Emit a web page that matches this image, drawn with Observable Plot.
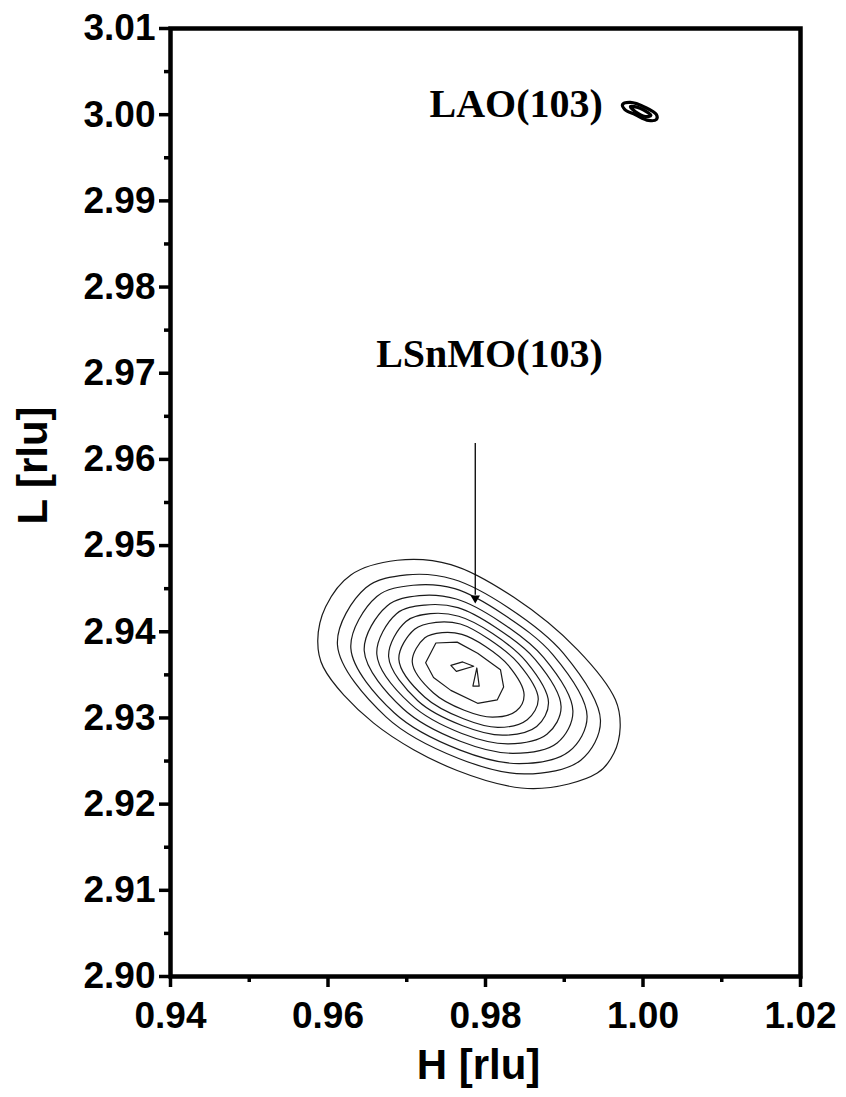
<!DOCTYPE html>
<html>
<head>
<meta charset="utf-8">
<script src="https://cdn.jsdelivr.net/npm/d3@7"></script>
<script src="https://cdn.jsdelivr.net/npm/@observablehq/plot@0.6"></script>
<style>
  html, body { margin: 0; padding: 0; background: #fff; }
  #chart svg { display: block; }
</style>
</head>
<body>
<div id="chart"></div>
<script>
// ---- axis ticks ----
const xTicks = [0.94, 0.96, 0.98, 1.00, 1.02];
const xMinor = [0.95, 0.97, 0.99, 1.01];
const yTicks = [2.90, 2.91, 2.92, 2.93, 2.94, 2.95, 2.96, 2.97, 2.98, 2.99, 3.00, 3.01];
const yMinor = [2.905, 2.915, 2.925, 2.935, 2.945, 2.955, 2.965, 2.975, 2.985, 2.995, 3.005];

// ---- LSnMO(103) contour rings, [H, L] (outer -> inner) ----
const ring1 = [[0.9587,2.9390],[0.9597,2.9429],[0.9629,2.9466],[0.9688,2.9483],[0.9756,2.9478],[0.9836,2.9440],[0.9917,2.9379],[0.9965,2.9321],[0.9971,2.9289],[0.9963,2.9259],[0.9942,2.9236],[0.9861,2.9218],[0.9764,2.9239],[0.9658,2.9294],[0.9594,2.9359]];
const ring2 = [[0.9612,2.9385],[0.9648,2.9451],[0.9700,2.9466],[0.9759,2.9461],[0.9829,2.9428],[0.9899,2.9375],[0.9946,2.9297],[0.9921,2.9251],[0.9850,2.9235],[0.9766,2.9253],[0.9674,2.9301]];
const ring3 = [[0.9629,2.9381],[0.9662,2.9441],[0.9708,2.9454],[0.9761,2.9450],[0.9823,2.9420],[0.9886,2.9373],[0.9929,2.9302],[0.9906,2.9261],[0.9843,2.9247],[0.9767,2.9263],[0.9684,2.9306]];
const ring4 = [[0.9646,2.9378],[0.9675,2.9430],[0.9716,2.9442],[0.9763,2.9438],[0.9818,2.9412],[0.9874,2.9370],[0.9911,2.9308],[0.9891,2.9271],[0.9835,2.9259],[0.9768,2.9273],[0.9695,2.9311]];
const ring5 = [[0.9662,2.9374],[0.9687,2.9421],[0.9723,2.9431],[0.9765,2.9428],[0.9813,2.9405],[0.9863,2.9368],[0.9896,2.9313],[0.9878,2.9281],[0.9829,2.9270],[0.9770,2.9282],[0.9705,2.9316]];
const ring6 = [[0.9677,2.9371],[0.9699,2.9412],[0.9730,2.9421],[0.9766,2.9418],[0.9809,2.9398],[0.9852,2.9365],[0.9880,2.9318],[0.9865,2.9290],[0.9822,2.9280],[0.9771,2.9291],[0.9714,2.9320]];
const ring7 = [[0.9690,2.9368],[0.9710,2.9403],[0.9737,2.9411],[0.9768,2.9409],[0.9805,2.9391],[0.9842,2.9363],[0.9867,2.9322],[0.9853,2.9298],[0.9816,2.9289],[0.9772,2.9299],[0.9723,2.9324]];
const ring8 = [[0.9707,2.9365],[0.9723,2.9393],[0.9745,2.9399],[0.9770,2.9397],[0.9800,2.9383],[0.9829,2.9361],[0.9849,2.9327],[0.9839,2.9308],[0.9809,2.9301],[0.9773,2.9309],[0.9734,2.9329]];
const ring9 = [[0.9724,2.9364],[0.9737,2.9387],[0.9764,2.9388],[0.9790,2.9375],[0.9819,2.9356],[0.9823,2.9336],[0.9815,2.9321],[0.9790,2.9317],[0.9756,2.9332],[0.9734,2.9347]];
const peakA = [[0.9756,2.9361],[0.9771,2.9365],[0.9785,2.9360],[0.9763,2.9354]];
const peakB = [[0.9789,2.9358],[0.9792,2.9337],[0.9784,2.9337]];

// ---- LAO(103) substrate peak contours ----
const laoOuter = [[0.9974,3.00118],[0.9984,3.00142],[1.0003,3.00084],[1.0017,3.00002],[1.0017,2.99944],[1.0007,2.99933],[0.9990,3.00002],[0.9977,3.00060]];
const laoInner = [[0.9984,3.00095],[0.9997,3.00072],[1.0010,2.99991],[1.0003,2.99979],[0.9990,3.00037]];

// ---- annotations ----
const labelText = ["LAO(103)", "LSnMO(103)"];
const labelH = [0.9949, 0.9949];
const labelL = [3.0012, 2.9722];
const arrowH = 0.9787;
const arrowTop = 2.9619;
const arrowTip = 2.9433;

const smoothRings = [ring1, ring2, ring3, ring4, ring5, ring6, ring7, ring8];
const polyRings = [ring9, peakA, peakB];
const laoRings = [laoOuter, laoInner];

const toRows = rings => rings.flatMap((r, i) => r.map(([h, l]) => ({ring: i, h, l})));
const labels = labelText.map((t, i) => ({t, h: labelH[i], l: labelL[i]}));

const chart = Plot.plot({
  width: 846,
  height: 1097,
  marginLeft: 170,
  marginRight: 46,
  marginTop: 28,
  marginBottom: 121,
  x: {domain: [0.94, 1.02]},
  y: {domain: [2.90, 3.01]},
  style: {fontFamily: "'Liberation Sans', Arial, sans-serif", background: "white", color: "black"},
  marks: [
    Plot.axisX(xTicks, {anchor: "bottom", tickSize: 11, tickPadding: 14, strokeWidth: 3.5, fontSize: 37, fontWeight: "bold", tickFormat: d3.format(".2f"), label: null}),
    Plot.axisX(xMinor, {anchor: "bottom", tickSize: 6, strokeWidth: 3.5, text: null, label: null}),
    Plot.axisY(yTicks, {anchor: "left", tickSize: 11, tickPadding: 4, strokeWidth: 3.5, fontSize: 37, fontWeight: "bold", tickFormat: d3.format(".2f"), label: null}),
    Plot.axisY(yMinor, {anchor: "left", tickSize: 6, strokeWidth: 3.5, text: null, label: null}),
    Plot.frame({stroke: "black", strokeWidth: 4.5}),
    Plot.line(toRows(smoothRings), {x: "h", y: "l", z: "ring", curve: "catmull-rom-closed", stroke: "#1a1a1a", strokeWidth: 1.2}),
    Plot.line(toRows(polyRings), {x: "h", y: "l", z: "ring", curve: "linear-closed", stroke: "#1a1a1a", strokeWidth: 1.2}),
    Plot.line(toRows(laoRings), {x: "h", y: "l", z: "ring", curve: "catmull-rom-closed", stroke: "black", strokeWidth: 3.2}),
    Plot.link([0], {x1: () => arrowH, x2: () => arrowH, y1: () => arrowTop, y2: () => arrowTip + 0.0010, stroke: "black", strokeWidth: 1.3}),
    Plot.dot([0], {x: () => arrowH, y: () => arrowTip + 0.0006, symbol: "triangle2", r: 4.5, rotate: 180, fill: "black", stroke: "none"}),
    Plot.text(labels, {x: "h", y: "l", text: "t", textAnchor: "end", lineAnchor: "middle", fontFamily: "'Liberation Serif', 'Times New Roman', serif", fontWeight: "bold", fontSize: 40, fill: "black"}),
    Plot.text(["H [rlu]"], {frameAnchor: "bottom", textAnchor: "middle", lineAnchor: "middle", dy: 89, dx: -7, fontSize: 42, fontWeight: "bold", fill: "black"}),
    Plot.text(["L [rlu]"], {frameAnchor: "left", textAnchor: "middle", lineAnchor: "middle", dx: -137, dy: -37, rotate: -90, fontSize: 42, fontWeight: "bold", fill: "black"})
  ]
});
document.getElementById("chart").appendChild(chart);
</script>
</body>
</html>
